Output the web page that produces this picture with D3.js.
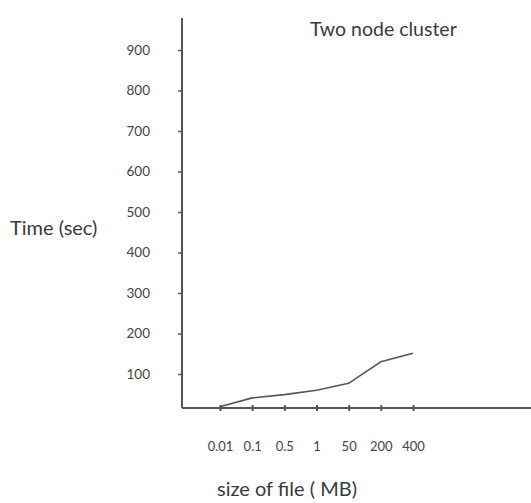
<!DOCTYPE html>
<html>
<head>
<meta charset="utf-8">
<script src="https://cdn.jsdelivr.net/npm/d3@7"></script>
<style>
  body { margin: 0; background: #fff; }
  svg text { font-family: Lato, "Open Sans", sans-serif; fill: #3a3a3a; }
</style>
</head>
<body>
<div id="chart"></div>
<script>
// Two node cluster: time vs file size
const sizes = ["0.01", "0.1", "0.5", "1", "50", "200", "400"];
const times = [19, 41, 49, 60, 77, 130, 151];
const yTicks = [100, 200, 300, 400, 500, 600, 700, 800, 900];

const W = 531, H = 503;
const svg = d3.select("#chart").append("svg").attr("width", W).attr("height", H);

const axisX = 182, topY = 18, baseY = 408;

const x = d3.scalePoint().domain(sizes).range([220, 413]);
const y = d3.scaleLinear().domain([0, 900]).range([414.5, 50]);

// y axis
const yAx = svg.append("g").attr("transform", `translate(${axisX},0)`)
  .call(d3.axisLeft(y).tickValues(yTicks).tickSize(4).tickPadding(28).tickFormat(d3.format("d")));
yAx.select(".domain").remove();
yAx.selectAll(".tick line").attr("stroke", "#555").attr("stroke-width", 1.5);
yAx.selectAll(".tick text").attr("font-size", 13.5).style("fill", "#444");
svg.append("line").attr("x1", axisX).attr("x2", axisX).attr("y1", topY).attr("y2", baseY)
  .attr("stroke", "#555").attr("stroke-width", 2);

// x axis
const xAx = svg.append("g").attr("transform", `translate(0,${baseY})`)
  .call(d3.axisBottom(x).tickSize(3).tickPadding(31));
xAx.select(".domain").remove();
xAx.selectAll(".tick line").attr("y1", -3).attr("stroke", "#555").attr("stroke-width", 2);
xAx.selectAll(".tick text").attr("font-size", 13).style("fill", "#444");
svg.append("line").attr("x1", axisX).attr("x2", W).attr("y1", baseY).attr("y2", baseY)
  .attr("stroke", "#555").attr("stroke-width", 2);

// data line
const line = d3.line().x((d, i) => x(sizes[i])).y(d => y(d));
svg.append("path").datum(times).attr("d", line)
  .attr("fill", "none").attr("stroke", "#555").attr("stroke-width", 1.6);

// labels
svg.append("text").attr("x", 310).attr("y", 36).attr("font-size", 19.5).text("Two node cluster");
svg.append("text").attr("x", 10).attr("y", 235).attr("font-size", 20).text("Time (sec)");
svg.append("text").attr("x", 217).attr("y", 496).attr("font-size", 20).text("size of file ( MB)");
</script>
</body>
</html>
